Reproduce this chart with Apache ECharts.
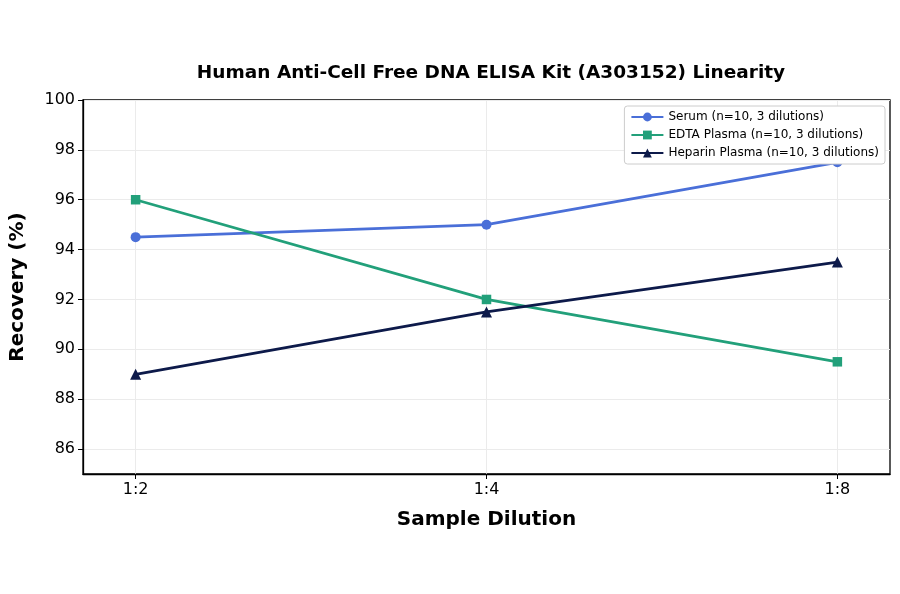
<!DOCTYPE html>
<html>
<head>
<meta charset="utf-8">
<script src="https://cdn.jsdelivr.net/npm/echarts@6/dist/echarts.min.js"></script>
<style>
html,body{margin:0;padding:0;background:#fff;}
#chart{width:900px;height:594px;}
</style>
</head>
<body>
<div id="chart"></div>
<script>
var categories = ['1:2', '1:4', '1:8'];
var serum = [94.5, 95.0, 97.5];
var edtaPlasma = [96.0, 92.0, 89.5];
var heparinPlasma = [89.0, 91.5, 93.5];
var yTicks = [86, 88, 90, 92, 94, 96, 98, 100];

function pairs(vals){
    var out = [];
    for (var i = 0; i < vals.length; i++) {
        out.push([i, vals[i]]);
    }
    return out;
}

var font = 'DejaVu Sans';
var myChart = echarts.init(document.getElementById('chart'));
myChart.setOption({
    animation: false,
    textStyle: {fontFamily: font},
    title: {
        text: 'Human Anti-Cell Free DNA ELISA Kit (A303152) Linearity',
        left: 486,
        textAlign: 'center',
        top: 59,
        textStyle: {fontFamily: font, fontSize: 18.5, fontWeight: 'bold', color: '#000'}
    },
    grid: {
        left: 82, right: 10, top: 100, bottom: 120,
        show: true, borderColor: '#000', borderWidth: 1.3, backgroundColor: 'transparent'
    },
    legend: {
        orient: 'vertical',
        right: 15,
        top: 106,
        backgroundColor: '#fff',
        borderColor: '#cccccc',
        borderWidth: 1,
        borderRadius: 3,
        padding: [5, 6, 5, 6],
        itemGap: 6,
        itemWidth: 32,
        itemHeight: 11,
        textStyle: {fontFamily: font, fontSize: 12, color: '#000'},
        data: ['Serum (n=10, 3 dilutions)', 'EDTA Plasma (n=10, 3 dilutions)', 'Heparin Plasma (n=10, 3 dilutions)']
    },
    xAxis: {
        type: 'value',
        min: -0.15,
        max: 2.15,
        name: 'Sample Dilution',
        nameLocation: 'middle',
        nameGap: 36,
        nameTextStyle: {fontFamily: font, fontSize: 20, fontWeight: 'bold', color: '#000'},
        axisLine: {show: true, onZero: false, lineStyle: {color: '#000', width: 1.3}},
        axisTick: {show: true, customValues: [0, 1, 2], length: 5, lineStyle: {color: '#000'}},
        axisLabel: {
            customValues: [0, 1, 2],
            fontFamily: font, fontSize: 16, color: '#000', margin: 8,
            formatter: function (v) { return categories[Math.round(v)]; }
        },
        splitLine: {show: true, lineStyle: {color: '#ebebeb', width: 1}}
    },
    yAxis: {
        type: 'value',
        min: 85,
        max: 100,
        name: 'Recovery (%)',
        nameLocation: 'middle',
        nameGap: 55,
        nameTextStyle: {fontFamily: font, fontSize: 20, fontWeight: 'bold', color: '#000'},
        axisLine: {show: true, onZero: false, lineStyle: {color: '#000', width: 1.3}},
        axisTick: {show: true, customValues: yTicks, length: 5, lineStyle: {color: '#000'}},
        axisLabel: {customValues: yTicks, fontFamily: font, fontSize: 16, color: '#000', margin: 8},
        splitLine: {show: true, lineStyle: {color: '#ebebeb', width: 1}}
    },
    series: [
        {
            name: 'Serum (n=10, 3 dilutions)',
            type: 'line',
            data: pairs(serum),
            symbol: 'circle',
            symbolSize: 10,
            lineStyle: {width: 2.8, color: '#4a6fd8'},
            itemStyle: {color: '#4a6fd8'}
        },
        {
            name: 'EDTA Plasma (n=10, 3 dilutions)',
            type: 'line',
            data: pairs(edtaPlasma),
            symbol: 'rect',
            symbolSize: 9.5,
            lineStyle: {width: 2.8, color: '#22a07a'},
            itemStyle: {color: '#22a07a'}
        },
        {
            name: 'Heparin Plasma (n=10, 3 dilutions)',
            type: 'line',
            data: pairs(heparinPlasma),
            symbol: 'triangle',
            symbolSize: 11,
            lineStyle: {width: 2.8, color: '#0d1a4a'},
            itemStyle: {color: '#0d1a4a'}
        }
    ]
});
</script>
</body>
</html>
